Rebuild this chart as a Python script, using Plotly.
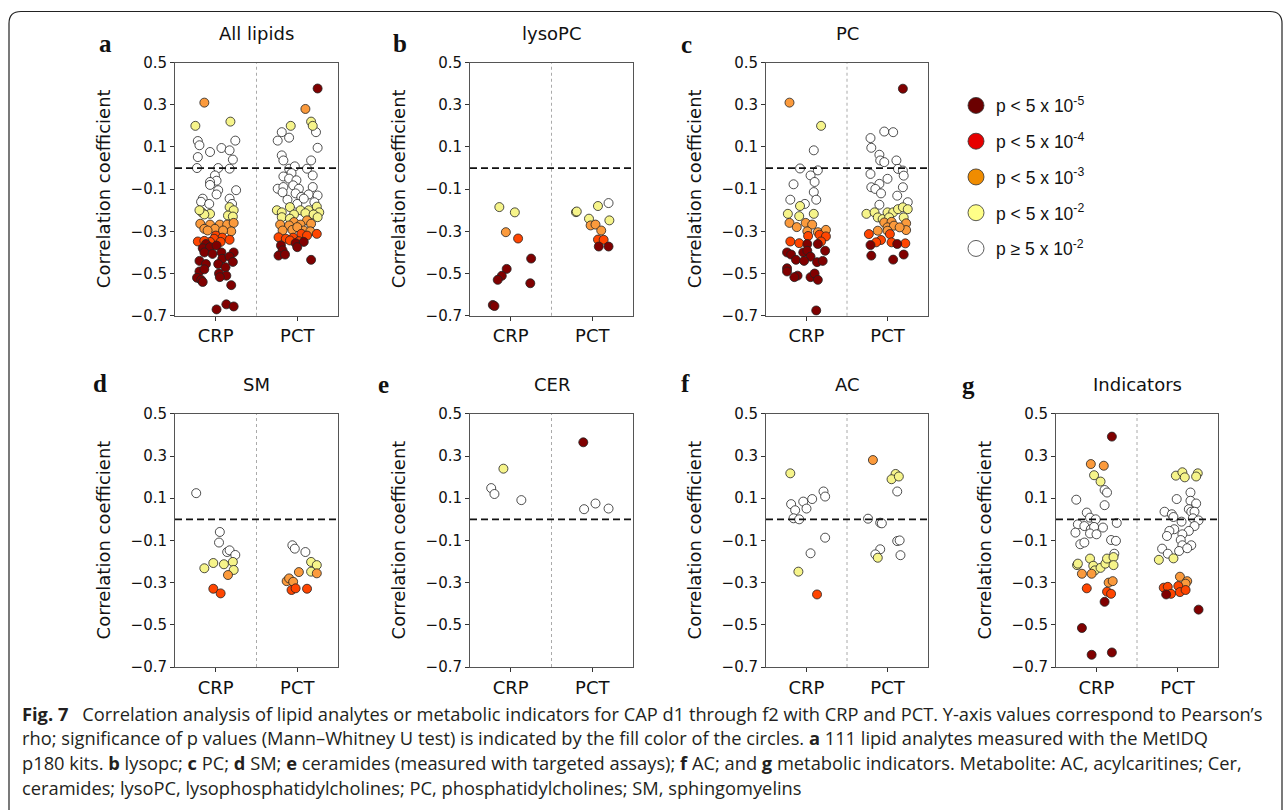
import plotly.graph_objects as go

# ---------------- data ----------------
CATEGORIES = ["CRP", "PCT"]
LEVEL_LABELS = ["p < 5 x 10<sup>-5</sup>", "p < 5 x 10<sup>-4</sup>", "p < 5 x 10<sup>-3</sup>",
                "p < 5 x 10<sup>-2</sup>", "p ≥ 5 x 10<sup>-2</sup>"]
Y_TICKS = [-0.7, -0.5, -0.3, -0.1, 0.1, 0.3, 0.5]

# level codes: 0 p<5e-5, 1 p<5e-4, 2 p<5e-3, 3 p<5e-2, 4 n.s.
# ---- a: All lipids ----
A_CRP_RHO = [0.31, 0.20, 0.22, 0.128, 0.108, 0.076, 0.052, 0.095, 0.084, 0.13, 0.04, 0.0, 0.0, -0.003,
             -0.035, -0.06, -0.066, -0.08, -0.105, -0.105, -0.125, -0.145, -0.16, -0.145, -0.17, -0.17,
             -0.21, -0.217, -0.185, -0.20, -0.225, -0.22, -0.23, -0.20,
             -0.264, -0.268, -0.268, -0.268, -0.26, -0.288, -0.288, -0.30, -0.296, -0.296,
             -0.32, -0.33, -0.335, -0.348, -0.35, -0.35, -0.34, -0.345,
             -0.36, -0.38, -0.375, -0.367, -0.40, -0.407, -0.40, -0.40, -0.43, -0.42, -0.44, -0.455, -0.455,
             -0.445, -0.47, -0.49, -0.48, -0.50, -0.51, -0.517, -0.52, -0.53, -0.54, -0.555, -0.67, -0.646, -0.656]
A_CRP_JIT = [-0.14, -0.25, 0.18, -0.22, -0.20, -0.07, -0.22, 0.07, 0.17, 0.24, 0.21, -0.23, 0.03, 0.17,
             -0.01, 0.01, -0.07, -0.07, 0.03, 0.25, 0.01, -0.16, -0.18, 0.17, 0.20, -0.08,
             -0.17, -0.07, 0.17, 0.22, 0.15, -0.14, 0.21, -0.20,
             -0.19, -0.07, 0.05, 0.14, 0.22, -0.14, -0.01, 0.19, 0.09, -0.10,
             0.0, 0.08, -0.02, -0.22, -0.07, 0.06, 0.17, -0.14,
             -0.12, -0.16, -0.07, 0.01, -0.14, -0.04, 0.07, 0.22, 0.08, 0.17, -0.20, -0.12, 0.03,
             0.21, 0.12, -0.20, -0.14, 0.04, 0.13, 0.05, -0.23, -0.18, -0.16, 0.19, 0.01, 0.13, 0.22]
A_CRP_LVL = [2, 3, 3, 4, 4, 4, 4, 4, 4, 4, 4, 4, 4, 4,
             4, 4, 4, 4, 4, 4, 4, 4, 4, 4, 4, 4,
             3, 3, 3, 3, 3, 3, 3, 3,
             2, 2, 2, 2, 2, 2, 2, 2, 2, 2,
             1, 1, 1, 1, 1, 1, 1, 1,
             0, 0, 0, 0, 0, 0, 0, 0, 0, 0, 0, 0, 0,
             0, 0, 0, 0, 0, 0, 0, 0, 0, 0, 0, 0, 0, 0]
A_PCT_RHO = [0.377, 0.28, 0.20, 0.22, 0.20,
             0.17, 0.144, 0.13, 0.17, 0.096, 0.06, 0.036, 0.036, -0.003, 0.008, -0.024, -0.04, -0.05, -0.058,
             -0.003, -0.035, -0.098, -0.09, -0.082, -0.098, -0.09, -0.115, -0.12, -0.137, -0.125, -0.13,
             -0.15, -0.17, -0.145, -0.162,
             -0.185, -0.20, -0.21, -0.20, -0.20, -0.183, -0.21, -0.22, -0.214, -0.22, -0.233, -0.233, -0.24,
             -0.256, -0.248, -0.268, -0.272, -0.268, -0.264, -0.296, -0.293, -0.296, -0.30, -0.28,
             -0.328, -0.335, -0.312, -0.32, -0.312, -0.33, -0.343, -0.347,
             -0.367, -0.356, -0.35, -0.375, -0.39, -0.415, -0.41, -0.435]
A_PCT_JIT = [0.25, 0.10, -0.08, 0.17, 0.19,
             -0.19, -0.10, -0.24, 0.23, 0.25, -0.19, -0.17, 0.17, -0.10, -0.03, -0.07, -0.17, -0.10, -0.01,
             0.12, 0.19, -0.24, -0.17, -0.05, 0.02, 0.19, -0.18, -0.02, 0.05, 0.14, 0.25,
             -0.12, 0.0, 0.08, 0.21,
             -0.09, -0.25, -0.19, 0.04, 0.14, 0.24, 0.27, -0.04, 0.10, 0.20, -0.19, 0.25, -0.09,
             -0.04, 0.12, -0.21, -0.10, 0.04, 0.17, -0.18, -0.06, 0.08, 0.16, 0.0,
             -0.23, -0.14, 0.05, 0.12, 0.24, -0.05, -0.09, 0.02,
             -0.20, -0.02, 0.08, 0.0, -0.18, -0.23, -0.15, 0.17]
A_PCT_LVL = [0, 2, 3, 3, 3,
             4, 4, 4, 4, 4, 4, 4, 4, 4, 4, 4, 4, 4, 4,
             4, 4, 4, 4, 4, 4, 4, 4, 4, 4, 4, 4,
             4, 4, 4, 4,
             3, 3, 3, 3, 3, 3, 3, 3, 3, 3, 3, 3, 3,
             2, 2, 2, 2, 2, 2, 2, 2, 2, 2, 2,
             1, 1, 1, 1, 1, 1, 1, 1,
             0, 0, 0, 0, 0, 0, 0, 0]

# ---- b: lysoPC ----
B_CRP_RHO = [-0.185, -0.21, -0.304, -0.334, -0.429, -0.478, -0.511, -0.53, -0.546, -0.649, -0.654]
B_CRP_JIT = [-0.14, 0.05, -0.06, 0.09, 0.25, -0.05, -0.11, -0.16, 0.24, -0.22, -0.20]
B_CRP_LVL = [3, 3, 2, 1, 0, 0, 0, 0, 0, 0, 0]
B_PCT_RHO = [-0.166, -0.209, -0.206, -0.18, -0.24, -0.248, -0.272, -0.268, -0.296, -0.339, -0.34, -0.372, -0.372]
B_PCT_JIT = [0.20, -0.20, -0.19, 0.07, -0.04, 0.21, -0.02, 0.04, 0.11, 0.07, 0.14, 0.08, 0.20]
B_PCT_LVL = [4, 3, 3, 3, 3, 3, 2, 2, 2, 1, 1, 0, 0]

# ---- c: PC ----
C_CRP_RHO = [0.31, 0.20, 0.084, -0.002, -0.011, -0.035, -0.066, -0.077, -0.114, -0.15, -0.15, -0.17,
             -0.18, -0.217, -0.228, -0.217,
             -0.26, -0.28, -0.26, -0.268, -0.304, -0.293, -0.30,
             -0.348, -0.356, -0.322, -0.316, -0.324, -0.348,
             -0.36, -0.36, -0.40, -0.41, -0.40, -0.392, -0.42, -0.392, -0.435, -0.44, -0.446, -0.44,
             -0.475, -0.49, -0.51, -0.517, -0.517, -0.50, -0.53, -0.675]
C_CRP_JIT = [-0.21, 0.18, 0.09, -0.08, 0.14, 0.05, 0.10, -0.16, 0.09, 0.12, -0.20, -0.02,
             -0.08, -0.23, -0.09, 0.09,
             -0.21, -0.12, -0.01, 0.07, 0.14, 0.24, 0.01,
             -0.20, -0.09, 0.02, 0.16, 0.24, 0.18,
             0.01, 0.14, -0.24, -0.19, -0.04, 0.01, 0.05, 0.23, -0.13, -0.03, 0.13, 0.20,
             -0.24, -0.24, -0.11, -0.15, 0.05, 0.10, 0.14, 0.12]
C_CRP_LVL = [2, 3, 4, 4, 4, 4, 4, 4, 4, 4, 4, 4,
             3, 3, 3, 3,
             2, 2, 2, 2, 2, 2, 2,
             1, 1, 1, 1, 1, 1,
             0, 0, 0, 0, 0, 0, 0, 0, 0, 0, 0, 0,
             0, 0, 0, 0, 0, 0, 0, 0]
C_PCT_RHO = [0.376, 0.173, 0.17, 0.142, 0.096, 0.063, 0.036, 0.028, 0.036, -0.004, -0.012, -0.028, -0.036,
             -0.051, -0.075, -0.091, -0.099, -0.12, -0.091, -0.131, -0.174, -0.162,
             -0.217, -0.21, -0.234, -0.242, -0.21, -0.21, -0.195, -0.186, -0.195, -0.234, -0.234,
             -0.297, -0.258, -0.255, -0.281, -0.273, -0.262, -0.294, -0.281, -0.297,
             -0.313, -0.341, -0.352, -0.313, -0.352, -0.357,
             -0.365, -0.36, -0.415, -0.434, -0.41]
C_PCT_JIT = [0.19, -0.04, 0.07, -0.21, -0.20, -0.10, -0.09, -0.04, 0.11, 0.13, 0.19, -0.21, 0.20,
             0.0, -0.10, -0.20, -0.15, -0.08, 0.19, 0.12, -0.10, 0.25,
             -0.26, -0.16, -0.12, -0.06, 0.0, 0.07, 0.13, 0.19, 0.25, 0.20, 0.02,
             -0.12, -0.04, 0.05, 0.0, 0.08, 0.23, 0.23, 0.15, 0.0,
             -0.23, -0.08, -0.14, 0.03, 0.05, 0.22,
             -0.21, 0.12, -0.20, 0.07, 0.20]
C_PCT_LVL = [0, 4, 4, 4, 4, 4, 4, 4, 4, 4, 4, 4, 4,
             4, 4, 4, 4, 4, 4, 4, 4, 4,
             3, 3, 3, 3, 3, 3, 3, 3, 3, 3, 3,
             2, 2, 2, 2, 2, 2, 2, 2, 2,
             1, 1, 1, 1, 1, 1,
             0, 0, 0, 0, 0]

# ---- d: SM ----
D_CRP_RHO = [0.124, -0.06, -0.11, -0.155, -0.147, -0.169, -0.232, -0.207, -0.213, -0.202, -0.24, -0.264, -0.329, -0.351]
D_CRP_JIT = [-0.24, 0.05, 0.04, 0.14, 0.17, 0.24, -0.14, -0.03, 0.10, 0.21, 0.22, 0.15, -0.03, 0.06]
D_CRP_LVL = [4, 4, 4, 4, 4, 4, 3, 3, 3, 3, 3, 2, 1, 1]
D_PCT_RHO = [-0.123, -0.139, -0.155, -0.202, -0.217, -0.248, -0.256, -0.25, -0.293, -0.28, -0.296, -0.335, -0.327, -0.329]
D_PCT_JIT = [-0.06, -0.03, 0.10, 0.17, 0.24, 0.17, 0.24, 0.02, -0.13, -0.10, -0.05, -0.07, -0.02, 0.12]
D_PCT_LVL = [4, 4, 4, 3, 3, 3, 2, 2, 2, 2, 2, 1, 1, 1]

# ---- e: CER ----
E_CRP_RHO = [0.24, 0.148, 0.12, 0.091]
E_CRP_JIT = [-0.09, -0.24, -0.20, 0.13]
E_CRP_LVL = [3, 4, 4, 4]
E_PCT_RHO = [0.365, 0.048, 0.075, 0.051]
E_PCT_JIT = [-0.11, -0.10, 0.04, 0.20]
E_PCT_LVL = [0, 4, 4, 4]

# ---- f: AC ----
F_CRP_RHO = [0.218, 0.072, 0.043, 0.005, 0.0, 0.084, 0.051, 0.096, 0.132, 0.108, -0.087, -0.161, -0.248, -0.356]
F_CRP_JIT = [-0.20, -0.19, -0.14, -0.16, -0.09, -0.04, 0.0, 0.07, 0.21, 0.23, 0.23, 0.05, -0.10, 0.13]
F_CRP_LVL = [3, 4, 4, 4, 4, 4, 4, 4, 4, 4, 4, 4, 3, 1]
F_PCT_RHO = [0.281, 0.215, 0.19, 0.203, 0.132, 0.003, -0.016, -0.019, -0.103, -0.10, -0.142, -0.182, -0.166, -0.17]
F_PCT_JIT = [-0.18, 0.10, 0.05, 0.14, 0.12, -0.24, -0.09, -0.07, 0.12, 0.15, -0.09, -0.12, -0.15, 0.16]
F_PCT_LVL = [2, 3, 3, 3, 4, 4, 4, 4, 4, 4, 4, 3, 4, 4]

# ---- g: Indicators ----
G_CRP_RHO = [0.392, 0.262, 0.254, 0.209, 0.179,
             0.139, 0.127, 0.067, 0.093, 0.032, 0.008, 0.0, -0.024, -0.032, -0.047, -0.036, -0.039, -0.017,
             -0.063, -0.067, -0.071, -0.118, -0.11, -0.098, -0.102, -0.163,
             -0.217, -0.21, -0.186, -0.22, -0.242, -0.23, -0.21, -0.186, -0.179, -0.217,
             -0.258, -0.258, -0.30, -0.293, -0.327, -0.343, -0.353, -0.391, -0.515, -0.642, -0.631]
G_CRP_JIT = [0.19, -0.07, 0.09, -0.03, 0.05,
             0.10, 0.13, 0.10, -0.25, -0.12, -0.08, -0.01, -0.23, -0.15, -0.07, -0.03, 0.08, 0.25,
             -0.26, -0.08, 0.0, -0.20, -0.15, 0.18, 0.24, 0.22,
             -0.24, -0.23, -0.08, -0.04, -0.02, 0.05, 0.11, 0.13, 0.21, 0.21,
             -0.18, -0.06, 0.15, 0.20, -0.12, 0.13, 0.18, 0.10, -0.18, -0.06, 0.19]
G_CRP_LVL = [0, 2, 2, 3, 3,
             4, 4, 4, 4, 4, 4, 4, 4, 4, 4, 4, 4, 4,
             4, 4, 4, 4, 4, 4, 4, 4,
             3, 3, 3, 3, 3, 3, 3, 3, 3, 3,
             2, 2, 2, 2, 1, 1, 1, 0, 0, 0, 0]
G_PCT_RHO = [0.207, 0.223, 0.199, 0.218, 0.203,
             0.127, 0.096, 0.088, 0.075, 0.048, 0.036, 0.036, 0.036, 0.024, 0.011, -0.011, 0.005, -0.005,
             -0.032, -0.047, -0.055, -0.055, -0.071, -0.079, -0.098, -0.123, -0.123, -0.15, -0.137, -0.139, -0.163,
             -0.192, -0.185,
             -0.272, -0.293, -0.305,
             -0.324, -0.32, -0.353, -0.316, -0.345, -0.335,
             -0.356, -0.428]
G_PCT_JIT = [-0.02, 0.06, 0.09, 0.25, 0.23,
             0.16, -0.01, 0.16, 0.23, 0.14, 0.17, 0.21, -0.16, -0.07, -0.05, 0.05, 0.19, 0.26,
             0.21, -0.04, -0.10, 0.14, 0.06, -0.13, 0.04, 0.06, 0.17, 0.02, 0.12, -0.19, -0.12,
             -0.23, -0.05,
             0.03, 0.12, 0.10,
             -0.17, -0.12, -0.08, 0.01, 0.03, 0.10,
             -0.14, 0.26]
G_PCT_LVL = [3, 3, 3, 3, 3,
             4, 4, 4, 4, 4, 4, 4, 4, 4, 4, 4, 4, 4,
             4, 4, 4, 4, 4, 4, 4, 4, 4, 4, 4, 4, 4,
             3, 3,
             2, 2, 2,
             1, 1, 1, 1, 1, 1,
             0, 0]

PANEL_LETTERS = ["a", "b", "c", "d", "e", "f", "g"]
PANEL_TITLES = ["All lipids", "lysoPC", "PC", "SM", "CER", "AC", "Indicators"]
PANEL_DATA = [
    ((A_CRP_RHO, A_CRP_JIT, A_CRP_LVL), (A_PCT_RHO, A_PCT_JIT, A_PCT_LVL)),
    ((B_CRP_RHO, B_CRP_JIT, B_CRP_LVL), (B_PCT_RHO, B_PCT_JIT, B_PCT_LVL)),
    ((C_CRP_RHO, C_CRP_JIT, C_CRP_LVL), (C_PCT_RHO, C_PCT_JIT, C_PCT_LVL)),
    ((D_CRP_RHO, D_CRP_JIT, D_CRP_LVL), (D_PCT_RHO, D_PCT_JIT, D_PCT_LVL)),
    ((E_CRP_RHO, E_CRP_JIT, E_CRP_LVL), (E_PCT_RHO, E_PCT_JIT, E_PCT_LVL)),
    ((F_CRP_RHO, F_CRP_JIT, F_CRP_LVL), (F_PCT_RHO, F_PCT_JIT, F_PCT_LVL)),
    ((G_CRP_RHO, G_CRP_JIT, G_CRP_LVL), (G_PCT_RHO, G_PCT_JIT, G_PCT_LVL)),
]

CAPTION = [
    "<b>Fig. 7</b>\u2002 Correlation analysis of lipid analytes or metabolic indicators for CAP d1 through f2 with CRP and PCT. Y-axis values correspond to Pearson’s",
    "rho; significance of p values (Mann–Whitney U test) is indicated by the fill color of the circles. <b>a</b> 111 lipid analytes measured with the MetIDQ",
    "p180 kits. <b>b</b> lysopc; <b>c</b> PC; <b>d</b> SM; <b>e</b> ceramides (measured with targeted assays); <b>f</b> AC; and <b>g</b> metabolic indicators. Metabolite: AC, acylcaritines; Cer,",
    "ceramides; lysoPC, lysophosphatidylcholines; PC, phosphatidylcholines; SM, sphingomyelins",
]

# ---------------- style / layout ----------------
W, H = 1284, 810
# the photographed page shows a slight vertical squeeze; targets below are in screen px
SQ_OFF, SQ_K = 8.5, 0.977
def fx(x):
    return x / W
def fy(y):
    return 1 - ((y - SQ_OFF) / SQ_K) / H

LEVEL_COLORS = ["#800000", "#ff4500", "#fb9a3c", "#f6f48a", "#ffffff"]
LEGEND_COLORS = ["#6b0000", "#e60000", "#f08c00", "#ffff88", "#ffffff"]
COLS = [(175, 338), (470, 633), (766, 928), (1056, 1218)]
ROWS = [(62, 315), (413, 666)]
GRID = [(0, 0), (1, 0), (2, 0), (0, 1), (1, 1), (2, 1), (3, 1)]
LETTER_POS = [(105, 43), (400, 43), (686, 44), (100, 383), (383, 384), (685, 383), (968, 385)]
TICK_FONT = dict(family="DejaVu Sans", size=15, color="#111")
LABEL_FONT = dict(family="DejaVu Sans", size=18, color="#111")

fig = go.Figure()
layout = dict(width=W, height=H, margin=dict(l=0, r=0, t=0, b=0),
              paper_bgcolor="white", plot_bgcolor="white", showlegend=True)
annotations = []
shapes = []

for i, (cat_data, (col, row)) in enumerate(zip(PANEL_DATA, GRID)):
    n = i + 1
    xa = "x" if n == 1 else f"x{n}"
    ya = "y" if n == 1 else f"y{n}"
    x0, x1 = COLS[col]
    y0, y1 = ROWS[row]
    layout[f"xaxis{n if n > 1 else ''}"] = dict(
        domain=[fx(x0), fx(x1)], range=[-0.5, 1.5], anchor=ya,
        tickvals=[0, 1], ticktext=CATEGORIES, ticks="outside", ticklen=4, tickcolor="#333",
        showline=True, mirror=True, linecolor="#555", linewidth=1, showgrid=False, zeroline=False,
        tickfont=LABEL_FONT, fixedrange=True)
    layout[f"yaxis{n if n > 1 else ''}"] = dict(
        domain=[fy(y1), fy(y0)], range=[-0.7, 0.5], anchor=xa,
        tickvals=Y_TICKS, tickformat=".1f", ticks="outside", ticklen=4, tickcolor="#333",
        showline=True, mirror=True, linecolor="#555", linewidth=1, showgrid=False, zeroline=False,
        tickfont=TICK_FONT, fixedrange=True)
    # points, one trace per significance level
    for lvl in [4, 3, 2, 1, 0]:
        xs, ys = [], []
        for ci, (rho, jit, lv) in enumerate(cat_data):
            for r, j, l in zip(rho, jit, lv):
                if l == lvl:
                    xs.append(ci + j)
                    ys.append(r)
        if not xs:
            continue
        fig.add_trace(go.Scatter(
            x=xs, y=ys, xaxis=xa, yaxis=ya, mode="markers", showlegend=False,
            marker=dict(size=9, color=LEVEL_COLORS[lvl], line=dict(color="#222", width=0.8)),
            hoverinfo="y"))
    # divider and zero line
    shapes.append(dict(type="line", xref=xa, yref=f"{ya} domain", x0=0.5, x1=0.5, y0=0, y1=1,
                       line=dict(color="#aaa", width=1, dash="dot"), layer="below"))
    shapes.append(dict(type="line", xref=f"{xa} domain", yref=ya, x0=0, x1=1, y0=0, y1=0,
                       line=dict(color="#111", width=1.8, dash="7px,4px")))
    # title
    annotations.append(dict(text=PANEL_TITLES[i], xref="paper", yref="paper",
                            x=fx((x0 + x1) / 2), y=fy(y0 - 29), xanchor="center", yanchor="middle",
                            showarrow=False, font=LABEL_FONT))
    # y title
    annotations.append(dict(text="Correlation coefficient", xref="paper", yref="paper",
                            x=fx(x0 - 72), y=fy((y0 + y1) / 2), xanchor="center", yanchor="middle",
                            textangle=-90, showarrow=False, font=LABEL_FONT))
    # panel letter
    lx, ly = LETTER_POS[i]
    annotations.append(dict(text=f"<b>{PANEL_LETTERS[i]}</b>", xref="paper", yref="paper",
                            x=fx(lx), y=fy(ly), xanchor="center", yanchor="middle", showarrow=False,
                            font=dict(family="Liberation Serif", size=25, color="#111")))

# legend entries (legend only, no points)
for lvl in range(5):
    fig.add_trace(go.Scatter(
        x=[None], y=[None], mode="markers", name=LEVEL_LABELS[lvl], legendgroup=f"g{lvl}",
        marker=dict(size=17, color=LEGEND_COLORS[lvl], line=dict(color="#333", width=0.8))))

layout["legend"] = dict(x=fx(956), y=fy(87), xanchor="left", yanchor="top",
                        font=dict(family="Liberation Sans", size=17.5, color="#111"),
                        tracegroupgap=10, bgcolor="rgba(0,0,0,0)", itemwidth=30)

# caption
for k, line in enumerate(CAPTION):
    annotations.append(dict(text=line, xref="paper", yref="paper", x=fx(20), y=fy(712 + 24.7 * k),
                            xanchor="left", yanchor="middle", showarrow=False, align="left",
                            font=dict(family="Open Sans", size=18.3, color="#231f20")))

# rounded border
r = 12
bx0, by0, bx1, by1 = 9, 11, 1282, 830
path = (f"M {fx(bx0)},{fy(by1)} L {fx(bx0)},{fy(by0 + r)} Q {fx(bx0)},{fy(by0)} {fx(bx0 + r)},{fy(by0)} "
        f"L {fx(bx1 - r)},{fy(by0)} Q {fx(bx1)},{fy(by0)} {fx(bx1)},{fy(by0 + r)} L {fx(bx1)},{fy(by1)}")
shapes.append(dict(type="path", xref="paper", yref="paper", path=path,
                   line=dict(color="#222", width=1.2)))

layout["annotations"] = annotations
layout["shapes"] = shapes
fig.update_layout(**layout)
fig.write_html("out.html", config={"displayModeBar": False},
               post_script="document.body.style.margin='0';document.body.style.overflow='hidden';")
